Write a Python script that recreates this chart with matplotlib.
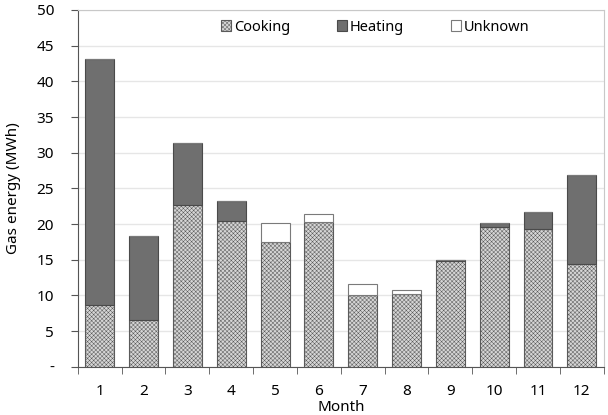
import numpy as np
import matplotlib.pyplot as plt

# monthly gas energy (MWh)
months = ["1", "2", "3", "4", "5", "6", "7", "8", "9", "10", "11", "12"]
cooking = [8.7, 6.6, 22.7, 20.4, 17.5, 20.3, 10.1, 10.2, 14.8, 19.6, 19.3, 14.4]
heating = [34.4, 11.8, 8.7, 2.8, 0.0, 0.0, 0.0, 0.0, 0.2, 0.5, 2.4, 12.5]
unknown = [0.0, 0.0, 0.0, 0.0, 2.7, 1.1, 1.5, 0.6, 0.0, 0.0, 0.0, 0.0]
yticks = [0, 5, 10, 15, 20, 25, 30, 35, 40, 45, 50]
ytick_labels = ["-", "5", "10", "15", "20", "25", "30", "35", "40", "45", "50"]

plt.rcParams["font.family"] = ["Noto Sans", "DejaVu Sans"]
plt.rcParams["hatch.linewidth"] = 0.35
plt.rcParams["hatch.color"] = "#8c8c8c"

fig = plt.figure(figsize=(6.08, 4.15), dpi=100)
ax = fig.add_axes([0.128, 0.116, 0.865, 0.860])

x = np.arange(len(months))
w = 0.66
cook = np.array(cooking)
heat = np.array(heating)

ax.bar(x, cook, w, color="#d6d6d6", hatch="xxxxxxxx", edgecolor="#5a5a5a",
       linewidth=0.8, label="Cooking", zorder=3)
ax.bar(x, heat, w, bottom=cook, color="#6f6f6f", edgecolor="#4a4a4a",
       linewidth=0.8, label="Heating", zorder=3)
ax.bar(x, unknown, w, bottom=cook + heat, color="white", edgecolor="#7a7a7a",
       linewidth=0.8, label="Unknown", zorder=3)

ax.set_xlim(-0.5, len(months) - 0.5)
ax.set_ylim(0, 50)
ax.set_yticks(yticks)
ax.set_yticklabels(ytick_labels)
ax.set_xticks(x)
ax.set_xticklabels(months)
# category boundary ticks like the original
ax.set_xticks(np.arange(-0.5, len(months), 1), minor=True)
ax.tick_params(axis="x", which="major", length=0, pad=12, labelsize=11)
ax.tick_params(axis="x", which="minor", length=5, color="#555555")
ax.tick_params(axis="y", length=5, pad=12, color="#555555", labelsize=11)

ax.grid(axis="y", color="#e6e6e6", linewidth=1, zorder=0)
for s in ["top", "right"]:
    ax.spines[s].set_color("#c8c8c8")
for s in ["left", "bottom"]:
    ax.spines[s].set_color("#555555")

ax.set_ylabel("Gas energy (MWh)", fontsize=11)
ax.yaxis.set_label_coords(-0.108, 0.5)
ax.set_xlabel("Month", fontsize=11, labelpad=1)

ax.legend(loc="center", bbox_to_anchor=(0.565, 0.952), ncol=3, frameon=False,
          fontsize=10.5, handlelength=0.7, handleheight=0.7, handletextpad=0.2,
          columnspacing=3.2)

fig.savefig("out.png", dpi=100)
